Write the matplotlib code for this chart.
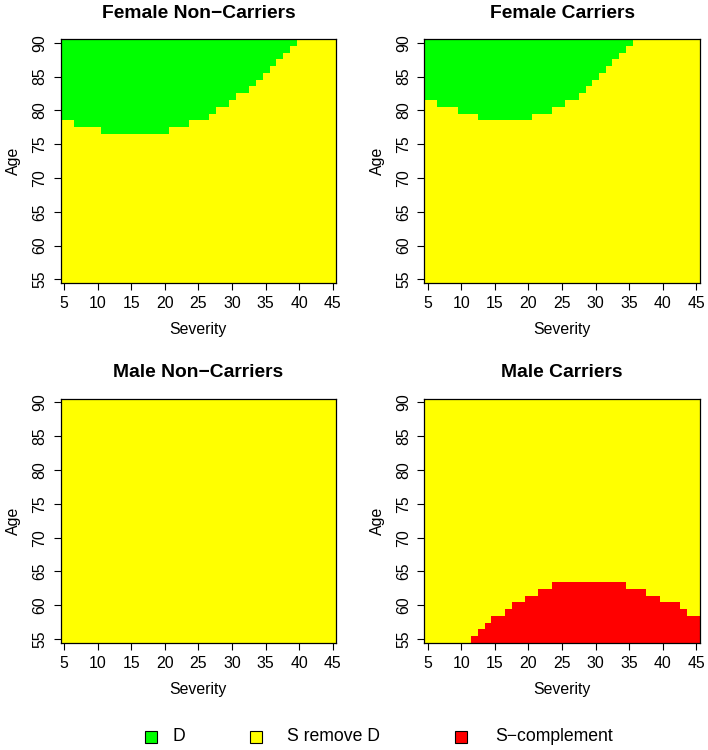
import matplotlib
matplotlib.use("Agg")
import matplotlib.pyplot as plt
import numpy as np
from matplotlib.colors import ListedColormap
from matplotlib.patches import Rectangle

plt.rcParams['font.family'] = ['Liberation Sans', 'DejaVu Sans']

severity = list(range(5, 46))
ages = list(range(55, 91))

# lowest age that falls in region D (green), per severity; 91 = none
female_nc_d_from = [79, 79, 78, 78, 78, 78, 77, 77, 77, 77, 77, 77, 77, 77, 77, 77,
                    78, 78, 78, 79, 79, 79, 80, 81, 81, 82, 83, 83, 84, 85, 86, 87,
                    88, 89, 90, 91, 91, 91, 91, 91, 91]
female_c_d_from = [82, 82, 81, 81, 81, 80, 80, 80, 79, 79, 79, 79, 79, 79, 79, 79,
                   80, 80, 80, 81, 81, 82, 82, 83, 84, 85, 86, 87, 88, 89, 90, 91,
                   91, 91, 91, 91, 91, 91, 91, 91, 91]
male_nc_d_from = [91] * 41
male_c_d_from = [91] * 41

# highest age that falls in S-complement (red), per severity; 54 = none
female_nc_red_to = [54] * 41
female_c_red_to = [54] * 41
male_nc_red_to = [54] * 41
male_c_red_to = [54, 54, 54, 54, 54, 54, 54, 55, 56, 57, 58, 58, 59, 60, 60, 61,
                 61, 62, 62, 63, 63, 63, 63, 63, 63, 63, 63, 63, 63, 63, 62, 62,
                 62, 61, 61, 60, 60, 60, 59, 58, 58]

titles = ["Female Non\u2212Carriers", "Female Carriers",
          "Male Non\u2212Carriers", "Male Carriers"]
legend_labels = ["D", "S remove D", "S\u2212complement"]
colors = ["#00FF00", "#FFFF00", "#FF0000"]

panels = [(female_nc_d_from, female_nc_red_to),
          (female_c_d_from, female_c_red_to),
          (male_nc_d_from, male_nc_red_to),
          (male_c_d_from, male_c_red_to)]

W, H = 708, 750
fig = plt.figure(figsize=(W / 100, H / 100), dpi=100)

lefts = [60.7, 424.3, 60.7, 424.3]
tops = [39.3, 39.3, 399.0, 399.0]
pw, ph = 275.5, 243.5

cmap = ListedColormap(colors)
sev = np.array(severity)
age = np.array(ages)

for i, (d_from, red_to) in enumerate(panels):
    ax = fig.add_axes([lefts[i] / W, 1 - (tops[i] + ph) / H, pw / W, ph / H])
    grid = np.ones((len(age), len(sev)))
    d_from = np.array(d_from)
    red_to = np.array(red_to)
    grid[age[:, None] >= d_from[None, :]] = 0
    grid[age[:, None] <= red_to[None, :]] = 2
    ax.imshow(grid, cmap=cmap, vmin=-0.5, vmax=2.5, origin="lower",
              extent=[sev[0] - 0.5, sev[-1] + 0.5, age[0] - 0.5, age[-1] + 0.5],
              aspect="auto", interpolation="nearest")
    ax.set_xticks(range(5, 46, 5))
    ax.set_yticks(range(55, 91, 5))
    ax.tick_params(direction="out", length=5, width=0.8, labelsize=11.4, pad=4.5)
    for lab in ax.get_yticklabels():
        lab.set_rotation(90)
        lab.set_va("center")
    for s in ax.spines.values():
        s.set_linewidth(0.9)
        s.set_color("black")
    ax.set_xlabel("Severity", fontsize=11.4, labelpad=8)
    ax.set_ylabel("Age", fontsize=11.4, labelpad=8)
    ax.set_title(titles[i], fontsize=13.9, fontweight="bold", pad=15.5)

# legend along the bottom
leg_x = [151, 256, 461]
txt_x = [172, 287, 495]
leg_y = 736.7
sq = 12
for k in range(3):
    fig.patches.append(Rectangle(((leg_x[k] - sq / 2) / W, 1 - (leg_y + sq / 2) / H),
                                 sq / W, sq / H, transform=fig.transFigure,
                                 facecolor=colors[k], edgecolor="black", lw=0.8))
    fig.text(txt_x[k] / W, 1 - leg_y / H, legend_labels[k], fontsize=12.7,
             ha="left", va="center")

fig.savefig("out.png", dpi=100, facecolor="white")
